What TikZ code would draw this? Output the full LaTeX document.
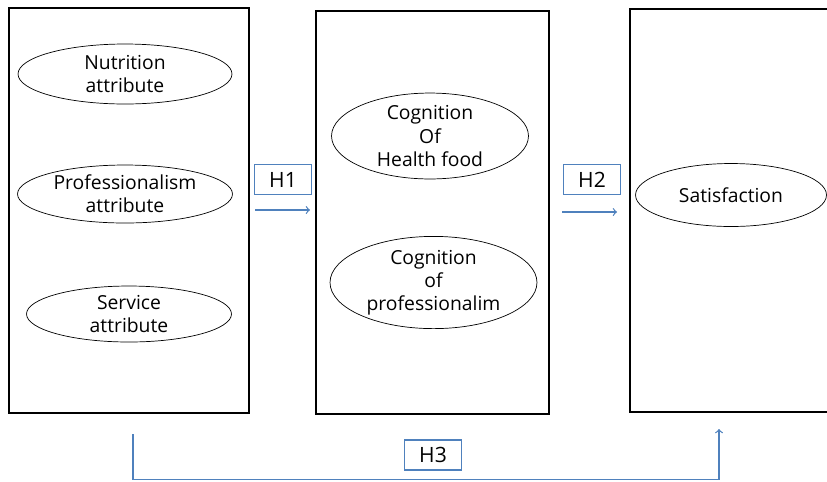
\documentclass[tikz,border=0pt]{standalone}
\usepackage{fontspec}
\setmainfont{Open Sans}
\usetikzlibrary{shapes.geometric}
\definecolor{linkblue}{RGB}{79,129,189}

\begin{document}
\begin{tikzpicture}[x=0.02cm, y=-0.02cm,
my box/.style = {draw, line width=0.9pt, inner sep=0pt},
my ellipse/.style = {draw, ellipse, inner sep=0pt, align=center,
                     font=\fontsize{11}{13.2}\selectfont},
my hyp/.style = {draw=linkblue, line width=0.9pt, inner sep=0pt,
                 minimum width=1.14cm, minimum height=0.6cm,
                 font=\fontsize{12}{14}\selectfont},
my link/.style = {draw=linkblue, line width=0.7pt, ->}
                   ]
\useasboundingbox (0,0) rectangle (827,481);
% three blocks
\node[my box, minimum width=4.8cm, minimum height=8.1cm]  (attr) at (129,210.5) {};
\node[my box, minimum width=4.66cm, minimum height=8.06cm] (cogn) at (432.5,212.5) {};
\node[my box, minimum width=4.04cm, minimum height=8.06cm] (satb) at (731,210.5) {};
% ellipses
\node[my ellipse, minimum width=4.28cm, minimum height=1.2cm]  (nutr) at (125,74)  {Nutrition\\attribute};
\node[my ellipse, minimum width=4.3cm,  minimum height=1.16cm] (prof) at (125,194) {Professionalism\\attribute};
\node[my ellipse, minimum width=4.1cm,  minimum height=1.12cm] (serv) at (129,314) {Service\\attribute};
\node[my ellipse, minimum width=3.94cm, minimum height=1.56cm] (cogh) at (430,136) {Cognition\\Of\\Health food};
\node[my ellipse, minimum width=4.14cm, minimum height=1.58cm] (cogp) at (433.5,282.5) {Cognition\\of\\professionalim};
\node[my ellipse, minimum width=3.82cm, minimum height=1.26cm] (sat)  at (731,195) {Satisfaction};
% hypotheses
\node[my hyp] (h1) at (283,179.5) {H1};
\node[my hyp] (h2) at (592,179.5) {H2};
\node[my hyp] (h3) at (433,455)   {H3};
\coordinate (h1s) at (255,210);
\coordinate (h1e) at (310,210);
\coordinate (h2s) at (562,212);
\coordinate (h2e) at (617,212);
\coordinate (h3s) at (133,434);
\coordinate (h3e) at (719,429);
\draw[my link] (h1s) -- (h1e);
\draw[my link] (h2s) -- (h2e);
\draw[my link] (h3s) -- (133,479.5) -| (h3e);
\end{tikzpicture}
\end{document}
